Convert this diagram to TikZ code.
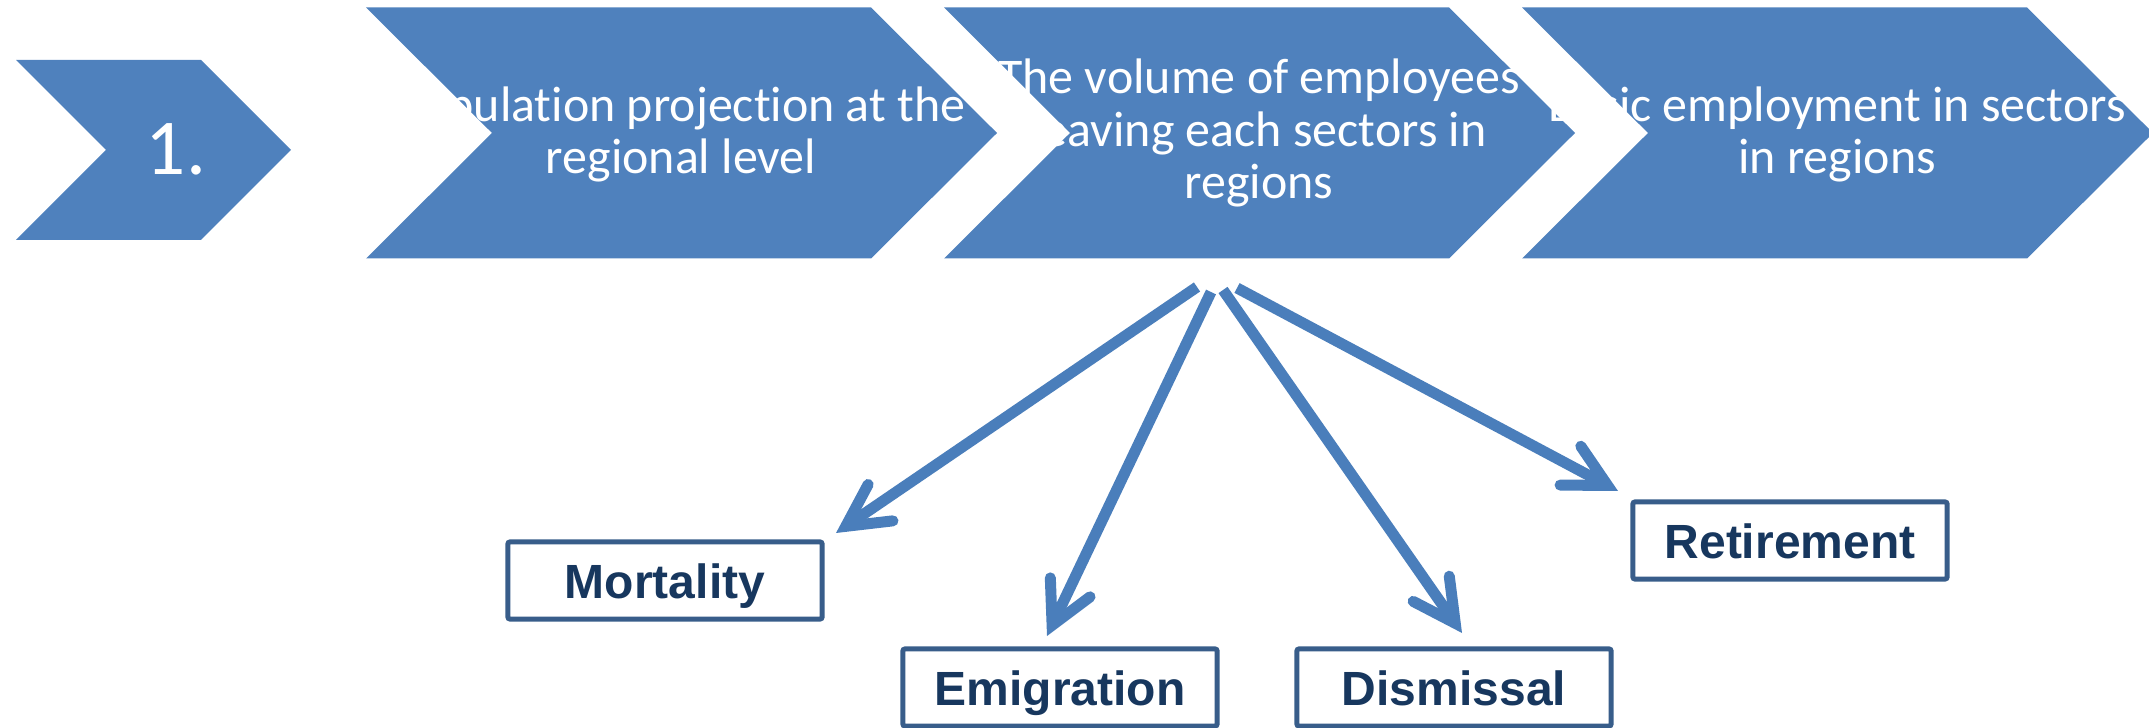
\documentclass[tikz,border=0pt]{standalone}
\usepackage{fontspec}
\setmainfont{Carlito}
\newfontfamily\chevfont[Ligatures=NoCommon]{Carlito}
\newfontfamily\boxfont{Liberation Sans}
\usetikzlibrary{arrows.meta}
\definecolor{chev}{HTML}{4F81BD}
\definecolor{arr}{HTML}{4A7EBB}
\definecolor{boxline}{HTML}{385D8A}
\definecolor{boxtext}{HTML}{17375E}
\begin{document}
\begin{tikzpicture}[x=0.01cm,y=-0.01cm,
  chevshape/.style={fill=chev,draw=none},
  chevtext/.style={text=white,inner sep=0pt,align=center,anchor=base,
    font=\chevfont\fontsize{14.2pt}{15pt}\selectfont},
  numtext/.style={text=white,inner sep=0pt,anchor=base,
    font=\chevfont\fontsize{22.5pt}{27pt}\selectfont},
  leafbox/.style={draw=boxline,line width=0.05cm,rounded corners=0.02cm,fill=white,
    minimum width=3.14cm,minimum height=0.77cm,inner sep=0pt,
    text height=0.35cm,text depth=0cm,text=boxtext,
    font=\boxfont\bfseries\fontsize{13.65pt}{15pt}\selectfont},
  flowarrow/.style={draw=arr,line width=0.11cm,
    -{Straight Barb[length=0.42cm,width=0.44cm,line cap=round,line join=miter]}}
]
\useasboundingbox (0,0) rectangle (2149,728);
% chevrons
\fill[chevshape] (16,60) -- (201,60) -- (291,150) -- (201,240) -- (16,240) -- (106,150) -- cycle;
\node[numtext] (n1) at (176,175) {1.};

\fill[chevshape] (366,7.5) -- (871,7.5) -- (997,133) -- (871,258.5) -- (366,258.5) -- (492,133) -- cycle;
\node[chevtext] (c2) at (681,174) {Population projection at the\\regional level};

\fill[chevshape] (944,7.5) -- (1449,7.5) -- (1575,133) -- (1449,258.5) -- (944,258.5) -- (1070,133) -- cycle;
\node[chevtext] (c3) at (1259,199) {The volume of employees\\leaving each sectors in\\regions};

\fill[chevshape] (1522,7.5) -- (2027,7.5) -- (2153,133) -- (2027,258.5) -- (1522,258.5) -- (1648,133) -- cycle;
\node[chevtext] (c4) at (1837,174) {Basic employment in sectors\\in regions};

% boxes
\node[leafbox] (mort) at (665,580.5) {Mortality};
\node[leafbox] (emig) at (1060,687.5) {Emigration};
\node[leafbox] (dism) at (1454,687.5) {Dismissal};
\node[leafbox] (reti) at (1790,540.5) {Retirement};

% connector ends
\coordinate (s1) at (1197,287);
\coordinate (s2) at (1211,292);
\coordinate (s3) at (1223,290);
\coordinate (s4) at (1237,288);
\coordinate (t1) at (836,533);
\coordinate (t2) at (1047,636);
\coordinate (t3) at (1462,633);
\coordinate (t4) at (1618,491);

\draw[flowarrow] (s1) -- (t1);
\draw[flowarrow] (s2) -- (t2);
\draw[flowarrow] (s3) -- (t3);
\draw[flowarrow] (s4) -- (t4);
\end{tikzpicture}
\end{document}
